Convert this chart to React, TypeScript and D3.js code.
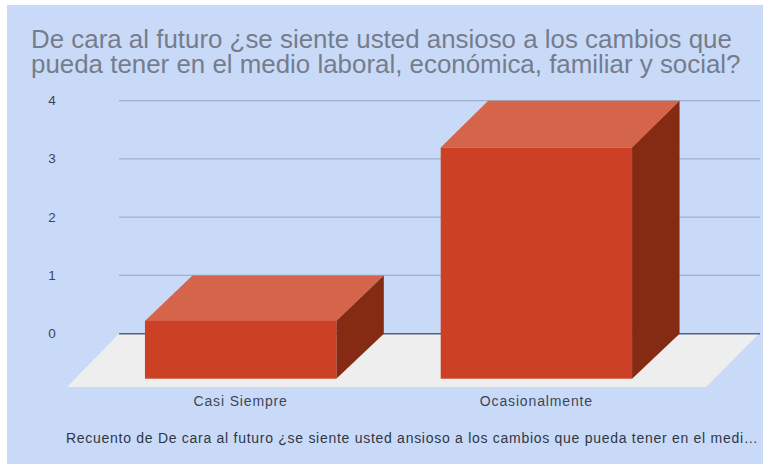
import React from "react";
import * as d3 from "d3";

const categories = ["Casi Siempre", "Ocasionalmente"];
const counts = [1, 4];
const yTicks = [0, 1, 2, 3, 4];
const titleLines = [
  "De cara al futuro ¿se siente usted ansioso a los cambios que",
  "pueda tener en el medio laboral, económica, familiar y social?",
];
const legendText =
  "Recuento de De cara al futuro ¿se siente usted ansioso a los cambios que pueda tener en el medi…";

const WIDTH = 770;
const HEIGHT = 464;
const FONT = "'Liberation Sans', Arial, sans-serif";

// Depth of the 3D box, as the shift from the front face to the back face.
const DEPTH_X = 47.5;

// The back wall carries the gridlines; the front plane carries the bar faces.
const yBack = d3.scaleLinear().domain([0, 4]).range([333.7, 100.7]);
const yFront = d3.scaleLinear().domain([0, 4]).range([378.7, 147.5]);
const xFront = d3
  .scaleBand<string>()
  .domain(categories)
  .range([71, 706])
  .paddingInner(0.353)
  .paddingOuter(0.25);

const poly = (pts: [number, number][]) => d3.line()(pts) + "Z";

export default function App() {
  return (
    <svg
      width={WIDTH}
      height={HEIGHT}
      viewBox={`0 0 ${WIDTH} ${HEIGHT}`}
      style={{ position: "fixed", left: 0, top: 0, background: "#ffffff" }}
    >
      <rect x={7} y={5} width={756} height={459} fill="#c9daf8" />

      {titleLines.map((line, i) => (
        <text key={i} x={31} y={47.8 + i * 25} fontFamily={FONT} fontSize={25.9} fill="#757d8c">
          {line}
        </text>
      ))}

      {/* Floor of the 3D plot */}
      <path
        d={poly([
          [119, yBack(0)],
          [759, yBack(0)],
          [706, 387],
          [67, 387],
        ])}
        fill="#eeeeee"
      />

      {yTicks.map((t) => (
        <g key={t}>
          <line
            x1={119}
            x2={760}
            y1={yBack(t)}
            y2={yBack(t)}
            stroke={t === 0 ? "#55607a" : "#9fb0cd"}
            strokeWidth={t === 0 ? 1.6 : 1.2}
          />
          <text
            x={52}
            y={yBack(t) + 4.4}
            textAnchor="middle"
            fontFamily={FONT}
            fontSize={13.5}
            fill="#3d4656"
          >
            {t}
          </text>
        </g>
      ))}

      {categories.map((c, i) => {
        const x0 = xFront(c)!;
        const x1 = x0 + xFront.bandwidth();
        const top = yFront(counts[i]);
        const bottom = yFront(0);
        const backTop = yBack(counts[i]);
        const backBottom = yBack(0);
        return (
          <g key={c}>
            <path
              d={poly([
                [x0, top],
                [x0 + DEPTH_X, backTop],
                [x1 + DEPTH_X, backTop],
                [x1, top],
              ])}
              fill="#d4654b"
            />
            <path
              d={poly([
                [x1, top],
                [x1 + DEPTH_X, backTop],
                [x1 + DEPTH_X, backBottom],
                [x1, bottom],
              ])}
              fill="#852a13"
            />
            <rect x={x0} y={top} width={x1 - x0} height={bottom - top} fill="#cc4125" />
            <text
              x={(x0 + x1) / 2}
              y={405.5}
              textAnchor="middle"
              fontFamily={FONT}
              fontSize={14}
              letterSpacing={0.85}
              fill="#3d4656"
            >
              {c}
            </text>
          </g>
        );
      })}

      <text x={66} y={443} fontFamily={FONT} fontSize={14} letterSpacing={0.72} fill="#2f3744">
        {legendText}
      </text>
    </svg>
  );
}
